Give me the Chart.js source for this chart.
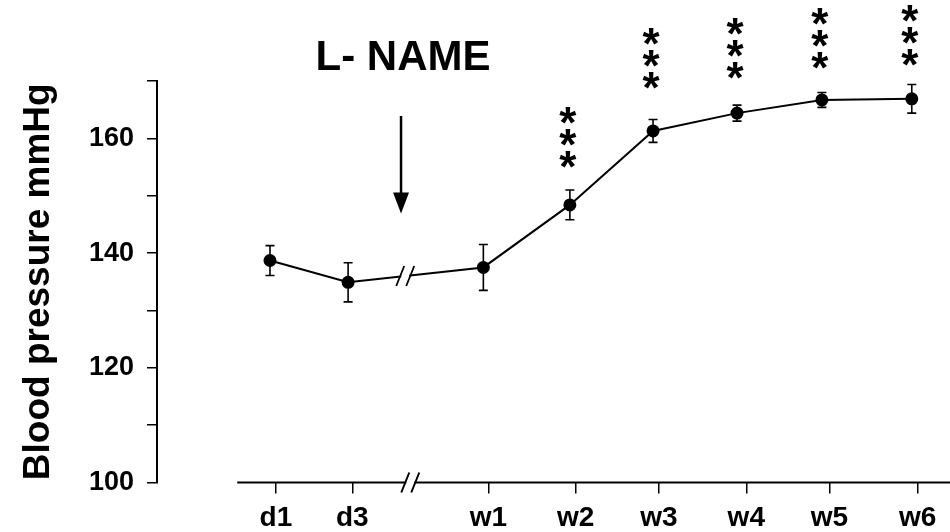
<!DOCTYPE html>
<html>
<head>
<meta charset="utf-8">
<script src="https://cdn.jsdelivr.net/npm/chart.js@4.4.0/dist/chart.umd.min.js"></script>
<style>
  html, body { margin: 0; padding: 0; background: #fff; }
  #wrap { width: 950px; height: 532px; }
</style>
</head>
<body>
<div id="wrap"><canvas id="bpChart"></canvas></div>
<script>
// time points; d3 -> w1 spans the axis break
const categories = ['d1', 'd3', 'w1', 'w2', 'w3', 'w4', 'w5', 'w6'];
const xPos = [0, 0.93, 2.54, 3.57, 4.56, 5.56, 6.57, 7.64];
// tick marks sit slightly right of the points in the original
const tickPos = [0.07, 0.98, 2.6, 3.64, 4.63, 5.67, 6.66, 7.71];
const bpMean = [138.7, 134.9, 137.5, 148.4, 161.3, 164.4, 166.7, 166.9];
const bpErr = [2.6, 3.4, 4.0, 2.6, 2.0, 1.4, 1.3, 2.5];
// significance stars (count, level of the lowest star)
const starCount = [0, 0, 0, 3, 3, 3, 3, 3];
const starLevel = [null, null, null, 155.7, 169.5, 171.2, 173.0, 173.5];
const yTicks = [100, 110, 120, 130, 140, 150, 160, 170];
const yLabels = [100, 120, 140, 160];

const FONT = "'Liberation Sans', Arial, sans-serif";
const lineBreakX = 1.61;
const axisBreakX = 1.67;
const axisStartX = -0.39;
const markerX = 1.56;      // L-NAME arrow
const arrowFrom = 163.9;
const arrowTo = 146.9;

function slashes(ctx, cx, cy) {
    ctx.beginPath();
    [-5, 5].forEach(d => {
        ctx.moveTo(cx + d - 4, cy + 10);
        ctx.lineTo(cx + d + 4, cy - 10);
    });
    ctx.stroke();
}

const decor = {
    id: 'decor',
    afterDatasetsDraw(chart) {
        const { ctx, chartArea, scales: { x, y } } = chart;
        ctx.save();
        ctx.strokeStyle = '#000';
        ctx.fillStyle = '#000';

        // error bars
        ctx.lineWidth = 1.6;
        bpMean.forEach((m, i) => {
            const px = x.getPixelForValue(xPos[i]);
            const top = y.getPixelForValue(m + bpErr[i]);
            const bot = y.getPixelForValue(m - bpErr[i]);
            ctx.beginPath();
            ctx.moveTo(px, top); ctx.lineTo(px, bot);
            ctx.moveTo(px - 4.5, top); ctx.lineTo(px + 4.5, top);
            ctx.moveTo(px - 4.5, bot); ctx.lineTo(px + 4.5, bot);
            ctx.stroke();
        });

        // break in the data line
        const x1 = x.getPixelForValue(xPos[1]), x2 = x.getPixelForValue(xPos[2]);
        const y1 = y.getPixelForValue(bpMean[1]), y2 = y.getPixelForValue(bpMean[2]);
        const bx = x.getPixelForValue(lineBreakX);
        const by = y1 + (y2 - y1) * (bx - x1) / (x2 - x1);
        ctx.fillStyle = '#fff';
        ctx.fillRect(bx - 4, by - 4, 8, 8);
        ctx.fillStyle = '#000';
        ctx.lineWidth = 1.8;
        slashes(ctx, bx, by);

        // x axis line with break
        const ay = chartArea.bottom;
        const ax = x.getPixelForValue(axisBreakX);
        ctx.lineWidth = 2;
        ctx.beginPath();
        ctx.moveTo(x.getPixelForValue(axisStartX), ay);
        ctx.lineTo(ax - 4, ay);
        ctx.moveTo(ax + 4, ay);
        ctx.lineTo(chartArea.right, ay);
        ctx.stroke();
        slashes(ctx, ax, ay);

        // stars
        ctx.font = 'bold 44px ' + FONT;
        ctx.textAlign = 'center';
        ctx.textBaseline = 'alphabetic';
        starCount.forEach((n, i) => {
            const px = x.getPixelForValue(xPos[i]) - 2;
            for (let k = 0; k < n; k++) {
                const cy = y.getPixelForValue(starLevel[i]) - k * 22;
                ctx.fillText('*', px, cy + 19);
            }
        });

        // L-NAME label and arrow
        const mx = x.getPixelForValue(markerX);
        ctx.font = 'bold 42px ' + FONT;
        ctx.textBaseline = 'middle';
        ctx.fillText('L- NAME', mx + 2, 58);
        const t = y.getPixelForValue(arrowFrom), b = y.getPixelForValue(arrowTo);
        ctx.lineWidth = 2.5;
        ctx.beginPath();
        ctx.moveTo(mx, t);
        ctx.lineTo(mx, b - 18);
        ctx.stroke();
        ctx.beginPath();
        ctx.moveTo(mx - 8, b - 21);
        ctx.lineTo(mx + 8, b - 21);
        ctx.lineTo(mx, b);
        ctx.closePath();
        ctx.fill();
        ctx.restore();
    }
};

new Chart(document.getElementById('bpChart'), {
    type: 'line',
    data: {
        datasets: [{
            data: xPos.map((v, i) => ({ x: v, y: bpMean[i] })),
            borderColor: '#000',
            backgroundColor: '#000',
            borderWidth: 2,
            pointRadius: 5.5,
            pointHoverRadius: 5.5,
            tension: 0,
            clip: false
        }]
    },
    options: {
        responsive: true,
        maintainAspectRatio: false,
        animation: false,
        events: [],
        layout: { autoPadding: false, padding: { top: 81, right: 0, bottom: 0, left: 0 } },
        plugins: { legend: { display: false }, tooltip: { enabled: false } },
        scales: {
            x: {
                type: 'linear',
                min: -1.345,
                max: 8.095,
                afterBuildTicks: s => { s.ticks = tickPos.map(v => ({ value: v })); },
                afterFit: s => { s.height = 49.5; },
                grid: { drawOnChartArea: false, drawTicks: true, tickLength: 11, color: '#000', lineWidth: 1.5 },
                border: { display: false },
                ticks: {
                    callback: (v, i) => categories[i],
                    color: '#000',
                    font: { family: FONT, size: 28, weight: 'bold' },
                    padding: 8,
                    maxRotation: 0,
                    autoSkip: false
                }
            },
            y: {
                min: 100,
                max: 170,
                afterBuildTicks: s => { s.ticks = yTicks.map(v => ({ value: v })); },
                afterFit: s => { s.width = 157; },
                grid: { drawOnChartArea: false, drawTicks: true, tickLength: 10, color: '#000', lineWidth: 1.5 },
                border: { display: true, color: '#000', width: 2 },
                ticks: {
                    callback: v => yLabels.includes(v) ? String(v) : '',
                    color: '#000',
                    font: { family: FONT, size: 27, weight: 'bold' },
                    padding: 13
                },
                title: {
                    display: true,
                    text: 'Blood pressure mmHg',
                    color: '#000',
                    font: { family: FONT, size: 37, weight: 'bold' },
                    padding: { top: 17, bottom: 0 }
                }
            }
        }
    },
    plugins: [decor]
});
</script>
</body>
</html>
